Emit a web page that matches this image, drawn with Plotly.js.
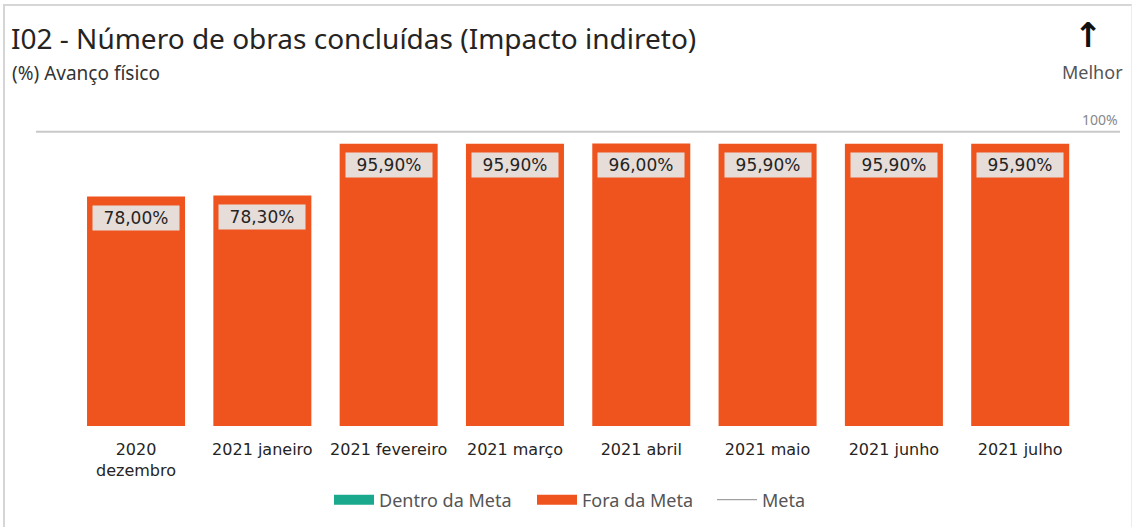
<!DOCTYPE html>
<html>
<head>
<meta charset="utf-8">
<script src="https://cdn.plot.ly/plotly-3.0.1.min.js"></script>
<style>
  html, body { margin: 0; padding: 0; background: #ffffff; }
  #wrap { position: relative; width: 1132px; height: 527px; overflow: hidden; }
  #chart { position: absolute; left: 0; top: 0; width: 1132px; height: 527px; }
  #frame { position: absolute; left: 3px; top: 4px; width: 1126px; height: 540px;
           border-top: 2px solid #d6d6d6; border-left: 2px solid #d6d6d6; border-right: 1px solid #ececec;
           pointer-events: none; }
</style>
</head>
<body>
<div id="wrap">
  <div id="chart"></div>
  <div id="frame"></div>
</div>
<script>
// ---- data ----
const categories = ['2020<br>dezembro', '2021 janeiro', '2021 fevereiro', '2021 março',
                    '2021 abril', '2021 maio', '2021 junho', '2021 julho'];
const avancoFisico = [78.00, 78.30, 95.90, 95.90, 96.00, 95.90, 95.90, 95.90];
const META = 100;
const seriesNames = ['Dentro da Meta', 'Fora da Meta', 'Meta'];

// ---- style ----
const TEAL = '#1BA98E';
const ORANGE = '#F0541E';
const META_GREY = '#C8C8C8';
const UI_FONT = 'Noto Sans, Open Sans, sans-serif';
const DATA_FONT = 'DejaVu Sans, Verdana, sans-serif';

const fmt = v => v.toFixed(2).replace('.', ',') + '%';

const barColors = avancoFisico.map(v => v >= META ? TEAL : ORANGE);

const traces = [
  {
    type: 'bar',
    x: categories,
    y: avancoFisico,
    marker: { color: barColors },
    showlegend: false,
    hoverinfo: 'x+y'
  },
  { type: 'scatter', mode: 'lines', x: [null], y: [null], name: seriesNames[0],
    line: { color: TEAL, width: 10 }, hoverinfo: 'skip', legendwidth: 148 },
  { type: 'scatter', mode: 'lines', x: [null], y: [null], name: seriesNames[1],
    line: { color: ORANGE, width: 10 }, hoverinfo: 'skip', legendwidth: 125 },
  { type: 'scatter', mode: 'lines', x: [null], y: [null], name: seriesNames[2],
    line: { color: '#8a8a8a', width: 1 }, hoverinfo: 'skip', legendwidth: 46 }
];

const labelAnnotations = categories.map((c, i) => ({
  x: c, y: avancoFisico[i], xref: 'x', yref: 'y',
  text: fmt(avancoFisico[i]),
  showarrow: false, yanchor: 'top', xanchor: 'center', yshift: -8,
  bgcolor: '#E6DDD9', borderpad: 3, width: 80, height: 18,
  font: { family: DATA_FONT, size: 17, color: '#252423' }
}));

const layout = {
  width: 1132, height: 527,
  paper_bgcolor: '#ffffff', plot_bgcolor: '#ffffff',
  margin: { l: 36, r: 12, t: 120, b: 101 },
  bargap: 0.224,
  title: {
    text: 'I02 - Número de obras concluídas (Impacto indireto)',
    xref: 'container', yref: 'container', x: 11 / 1132, xanchor: 'left',
    y: 1 - 39 / 527, yanchor: 'middle',
    font: { family: UI_FONT, size: 28, color: '#252423' }
  },
  xaxis: {
    type: 'category', range: [-0.792, 7.79],
    showline: false, showgrid: false, zeroline: false, ticks: '',
    ticklabelstandoff: 12,
    tickfont: { family: DATA_FONT, size: 16, color: '#252423' },
    fixedrange: true
  },
  yaxis: {
    range: [0, 104], visible: false, showgrid: false, zeroline: false, fixedrange: true
  },
  showlegend: true,
  legend: {
    orientation: 'h', xref: 'container', yref: 'container',
    x: 571 / 1132, xanchor: 'center', y: 27 / 527, yanchor: 'middle',
    font: { family: UI_FONT, size: 18, color: '#555555' },
    itemwidth: 40, traceorder: 'normal', bgcolor: 'rgba(0,0,0,0)'
  },
  shapes: [
    { type: 'line', xref: 'paper', x0: 0, x1: 1, yref: 'y', y0: META, y1: META,
      line: { color: META_GREY, width: 2 }, layer: 'below' }
  ],
  annotations: labelAnnotations.concat([
    { text: '(%) Avanço físico', xref: 'paper', yref: 'paper', showarrow: false,
      x: (10 - 36) / 1084, xanchor: 'left', y: (426 - 73) / 306, yanchor: 'middle',
      font: { family: UI_FONT, size: 19, color: '#333333' } },
    { text: '<b>↑</b>', xref: 'paper', yref: 'paper', showarrow: false,
      x: (1088 - 36) / 1084, xanchor: 'center', y: (426 - 35) / 306, yanchor: 'middle',
      font: { family: 'DejaVu Sans, sans-serif', size: 34, color: '#111111' } },
    { text: 'Melhor', xref: 'paper', yref: 'paper', showarrow: false,
      x: (1092 - 36) / 1084, xanchor: 'center', y: (426 - 72) / 306, yanchor: 'middle',
      font: { family: UI_FONT, size: 18, color: '#555555' } },
    { text: '100%', xref: 'paper', yref: 'paper', showarrow: false,
      x: (1100 - 36) / 1084, xanchor: 'center', y: (426 - 119) / 306, yanchor: 'middle',
      font: { family: UI_FONT, size: 14, color: '#888888' } }
  ])
};

Plotly.newPlot('chart', traces, layout, { displayModeBar: false, staticPlot: true });
</script>
</body>
</html>
